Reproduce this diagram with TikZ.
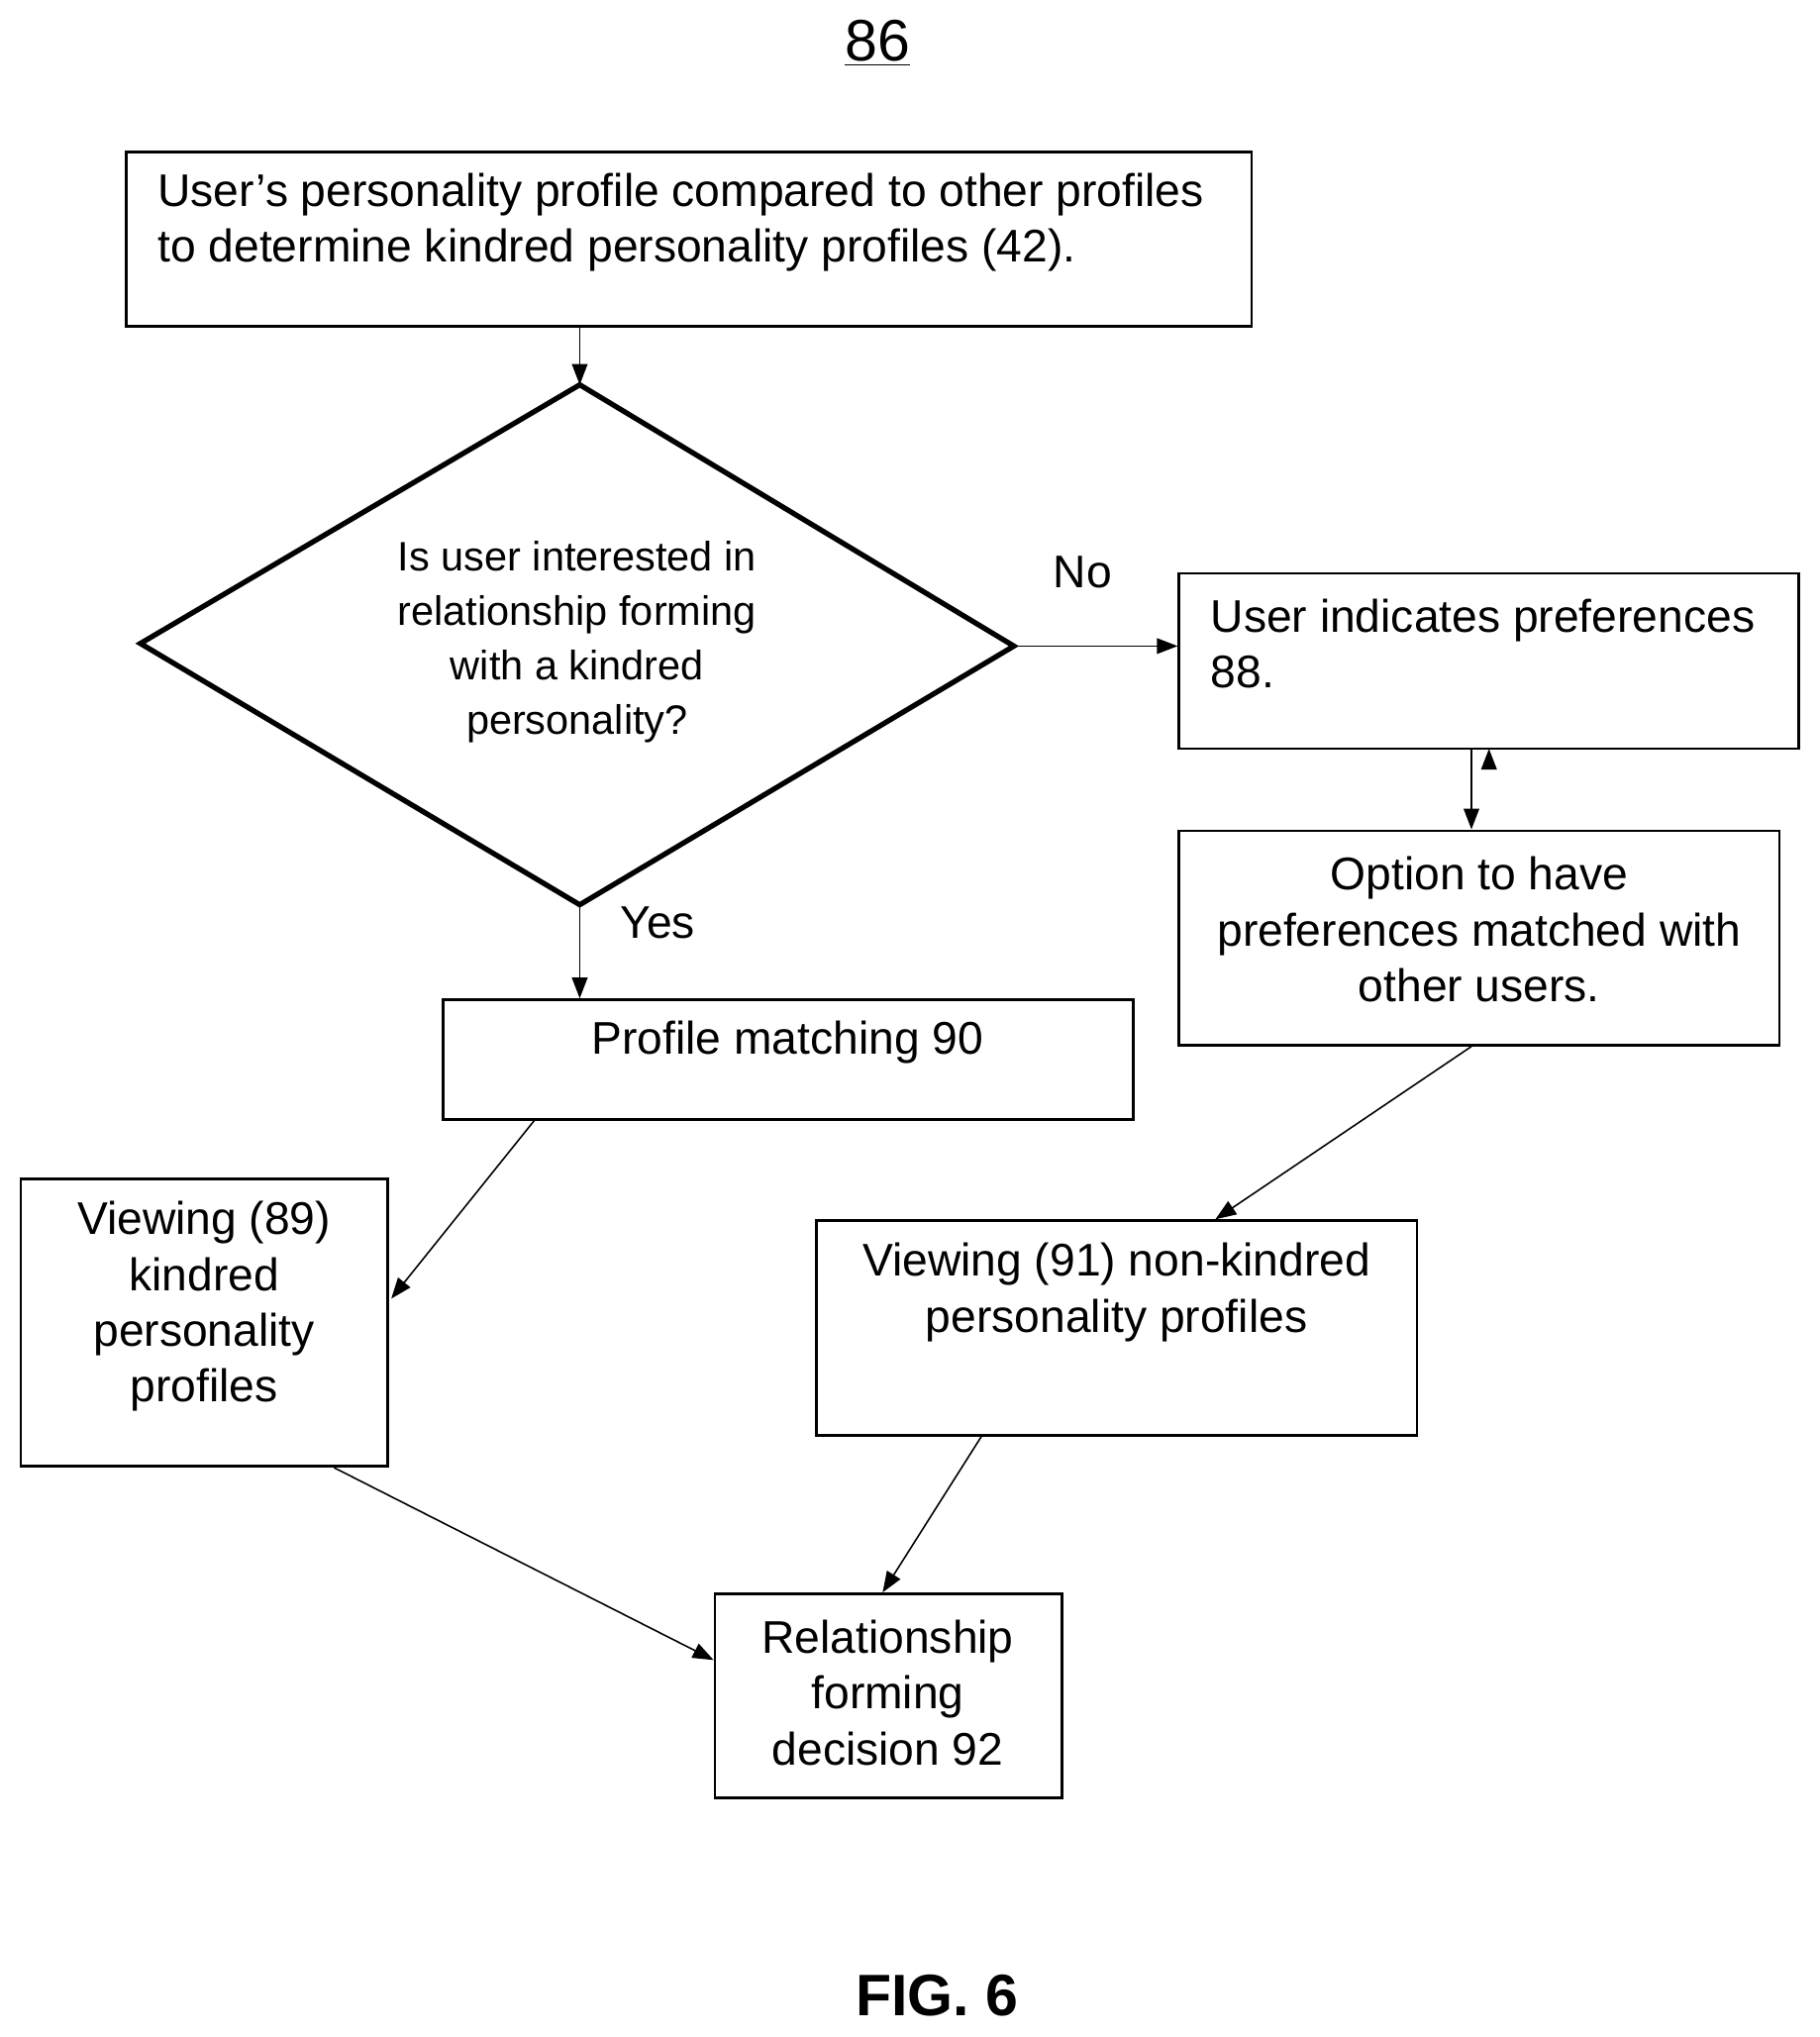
\documentclass[tikz,border=0pt]{standalone}
\usepackage{fontspec}
\setmainfont{Liberation Sans}
\usetikzlibrary{arrows.meta,calc}
\begin{document}
\begin{tikzpicture}[x=0.5pt,y=-0.5pt,
  box/.style={draw,line width=1pt,inner sep=0pt},
  txt/.style={inner sep=0pt,font=\fontsize{17.6}{21.5}\selectfont,align=center},
  dtxt/.style={inner sep=0pt,font=\fontsize{15.8}{21}\selectfont,align=center},
  arr/.style={line width=0.6pt,-{Triangle[length=8pt,width=6pt]}}]
\useasboundingbox (0,0) rectangle (1400,1567);
\newcommand\mybox[5]{\node[box,minimum width={(#4-#2)*0.5pt},minimum height={(#5-#3)*0.5pt}] (#1) at ({(#2+#4)/2},{(#3+#5)/2}) {};}
\node[inner sep=0pt,font=\fontsize{22.5}{24}\selectfont] (title) at (675,33) {\underline{86}};
\mybox{b1}{97}{117}{963}{251}
\node[txt,anchor=west,align=left] (t1) at (121,171) {User’s personality profile compared to other profiles\\to determine kindred personality profiles (42).};
\coordinate (dl) at (108,495); \coordinate (dt) at (446,296);
\coordinate (dr) at (780,497); \coordinate (db) at (446,696);
\draw[line width=2pt,line join=miter] (dl)--(dt)--(dr)--(db)--cycle;
\node[dtxt] (dtx) at (444,494) {Is user interested in\\relationship forming\\with a kindred\\personality?};
\draw[arr] (b1.south -| dt) -- (dt);
\node[txt] (no) at (833,440) {No};
\mybox{b2}{907}{441}{1384}{576}
\node[txt,anchor=west,align=left] (t2) at (931,495) {User indicates preferences\\88.};
\draw[arr] (dr) -- (dr -| b2.west);
\mybox{b3}{907}{639}{1369}{804}
\node[txt] (t3) at (1138,715) {Option to have\\preferences matched with\\other users.};
\draw[arr] (1133,576 -| b2.south) ++(0,0) coordinate (s2);
\draw[arr] ($(b2.south west)+(226,0)$) -- ($(b3.north west)+(226,0)$);
\mybox{b4}{341}{769}{872}{861}
\node[txt] (yes) at (506,710) {Yes};
\node[txt] (t4) at (606,802) {Profile matching 90};
\draw[arr] (db) -- (db |- b4.north);
\mybox{b5}{16}{907}{298}{1128}
\node[txt] (t5) at (157,1005) {Viewing (89)\\kindred\\personality\\profiles};
\draw[arr] ($(b4.south west)+(71,0)$) -- ($(b5.north east)+(2,93)$);
\mybox{b6}{628}{939}{1090}{1104}
\node[txt] (t6) at (859,994) {Viewing (91) non-kindred\\personality profiles};
\draw[arr] ($(b3.south west)+(226,0)$) -- ($(b6.north west)+(308,0)$);
\mybox{b7}{550}{1226}{817}{1383}
\node[txt] (t7) at (683,1302) {Relationship\\forming\\decision 92};
\draw[arr] ($(b6.south west)+(128,0)$) -- ($(b7.north west)+(130,0)$);
\draw[arr] ($(b5.south west)+(242,0)$) -- ($(b7.north west)+(0,52)$);
\node[inner sep=0pt,font=\fontsize{22.5}{24}\selectfont\bfseries] (fig) at (721,1535) {FIG. 6};
\end{tikzpicture}
\end{document}
